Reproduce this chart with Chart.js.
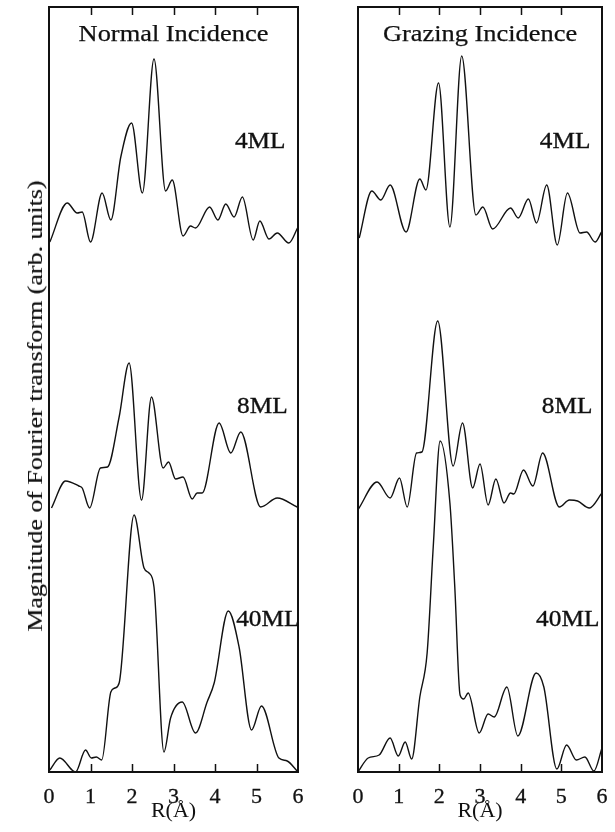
<!DOCTYPE html>
<html>
<head>
<meta charset="utf-8">
<script src="https://cdn.jsdelivr.net/npm/chart.js@4"></script>
<style>
  body { margin: 0; background: #fff; }
  #wrap { position: relative; width: 615px; height: 832px; overflow: hidden; }
  canvas { position: absolute; top: 0; }
  #ylabel {
    position: absolute; left: 35px; top: 406px;
    font: 22px "Liberation Serif", "Times New Roman", serif;
    color: #111; white-space: nowrap;
    -webkit-text-stroke: 0.2px #111;
    transform: translate(-50%, -50%) rotate(-90deg) scaleX(1.18);
  }
</style>
</head>
<body>
<div id="wrap">
  <canvas id="normalChart" width="310" height="832" style="left:0"></canvas>
  <canvas id="grazingChart" width="305" height="832" style="left:310px"></canvas>
  <div id="ylabel">Magnitude of Fourier transform (arb. units)</div>
</div>
<script>
// curve names and vertical offsets (arb. units) used to stack them
const seriesNames = ["4ML", "8ML", "40ML"];
const offsets = [52.7, 26.2, 0];
const xTicks = [0, 1, 2, 3, 4, 5, 6];

// Normal incidence, R in Å and FT magnitude (arb. units)
const normal4R = [0.02, 0.44, 0.68, 0.80, 1.00, 1.28, 1.49, 1.73, 1.99, 2.25, 2.53, 2.81, 2.97, 3.23, 3.41, 3.53, 3.87, 4.07, 4.26, 4.46, 4.66, 4.92, 5.08, 5.30, 5.50, 5.78, 6.00];
const normal4M = [0.3, 4.2, 3.2, 3.3, 0.3, 5.2, 2.5, 8.8, 12.2, 5.2, 18.6, 5.4, 6.5, 0.9, 1.9, 1.7, 3.8, 2.5, 4.1, 2.8, 4.8, 0.5, 2.4, 0.6, 1.2, 0.2, 1.8];
const normal8R = [0.06, 0.40, 0.72, 0.80, 0.98, 1.24, 1.41, 1.69, 1.93, 2.23, 2.47, 2.75, 2.88, 3.05, 3.23, 3.45, 3.57, 3.69, 4.10, 4.38, 4.62, 5.10, 5.50, 5.98];
const normal8M = [0.2, 2.9, 2.4, 2.2, 0.2, 4.2, 4.3, 9.3, 14.7, 1.0, 11.3, 4.2, 4.8, 3.1, 3.3, 1.1, 1.7, 1.7, 8.7, 5.7, 7.8, 0.3, 1.2, 0.3];
const normal40R = [0.02, 0.26, 0.64, 0.88, 1.02, 1.14, 1.27, 1.49, 1.59, 1.69, 2.05, 2.29, 2.41, 2.53, 2.77, 2.93, 3.21, 3.53, 3.81, 3.98, 4.32, 4.58, 4.88, 5.12, 5.54, 5.74, 5.98];
const normal40M = [0.2, 1.4, 0.0, 2.2, 1.4, 1.5, 1.2, 8.0, 8.4, 8.9, 25.7, 20.4, 19.9, 18.5, 2.0, 5.4, 7.0, 3.9, 7.0, 8.9, 16.1, 12.5, 4.2, 6.6, 1.4, 1.1, 0.1];

// Grazing incidence
const grazing4R = [0.03, 0.34, 0.56, 0.79, 1.18, 1.52, 1.67, 1.98, 2.26, 2.55, 2.90, 3.07, 3.31, 3.75, 3.94, 4.19, 4.39, 4.64, 4.90, 5.15, 5.46, 5.62, 5.83, 5.99];
const grazing4M = [0.7, 5.4, 4.5, 6.0, 1.3, 6.6, 5.5, 16.2, 1.8, 18.9, 3.0, 3.8, 1.6, 3.7, 2.7, 4.6, 2.2, 6.0, 0.0, 5.2, 1.2, 1.3, 0.3, 1.3];
const grazing8R = [0.01, 0.47, 0.79, 1.02, 1.21, 1.44, 1.57, 1.96, 2.34, 2.57, 2.82, 3.00, 3.20, 3.39, 3.59, 3.75, 3.83, 4.07, 4.30, 4.54, 4.95, 5.20, 5.40, 5.69, 6.00];
const grazing8M = [0.1, 2.8, 1.2, 3.2, 0.3, 5.7, 5.8, 18.9, 4.4, 8.7, 2.2, 4.6, 0.5, 3.1, 0.7, 1.7, 1.6, 4.0, 2.4, 5.7, 0.3, 1.0, 0.9, 0.2, 1.7];
const grazing40R = [0.00, 0.25, 0.52, 0.79, 0.99, 1.16, 1.32, 1.52, 1.70, 1.85, 2.02, 2.26, 2.38, 2.51, 2.60, 2.71, 2.98, 3.20, 3.35, 3.66, 3.93, 4.38, 4.57, 4.89, 5.13, 5.37, 5.58, 5.80, 6.00];
const grazing40M = [0.0, 1.4, 1.7, 3.4, 1.6, 3.0, 1.3, 7.5, 11.9, 22.5, 33.1, 26.9, 18.5, 7.7, 7.3, 7.9, 3.9, 5.8, 5.5, 8.5, 3.6, 9.9, 8.5, 0.3, 2.7, 1.2, 1.5, 0.1, 2.4];

const serif = '"Liberation Serif", "Times New Roman", serif';

function toPoints(rs, ms, off) {
  return rs.map((r, i) => ({ x: r, y: ms[i] + off }));
}

function drawText(ctx, text, px, py, stroke) {
  ctx.save();
  ctx.translate(px, py);
  ctx.scale(1.1, 1);
  ctx.fillText(text, 0, 0);
  ctx.lineWidth = stroke;  // a bit heavier, like the scanned figure
  ctx.strokeText(text, 0, 0);
  ctx.restore();
}

// frame, inward ticks, panel title and curve labels
const framePlugin = {
  id: "frame",
  afterDraw(chart, args, opts) {
    const { ctx, chartArea: a, scales: { x, y } } = chart;
    ctx.save();
    ctx.strokeStyle = "#111";
    ctx.lineWidth = 1.5;
    xTicks.slice(1, -1).forEach(v => {
      const px = Math.round(x.getPixelForValue(v)) + 0.5;
      ctx.beginPath();
      ctx.moveTo(px, a.bottom); ctx.lineTo(px, a.bottom - 8);
      ctx.moveTo(px, a.top); ctx.lineTo(px, a.top + 8);
      ctx.stroke();
    });
    ctx.lineWidth = 2;
    ctx.strokeRect(a.left, a.top, a.width, a.height);

    ctx.fillStyle = "#111";
    ctx.textBaseline = "middle";
    ctx.textAlign = "center";
    ctx.font = "24px " + serif;
    drawText(ctx, opts.title, (a.left + a.right) / 2, a.top + 28, 0.25);

    ctx.textAlign = "left";
    ctx.font = "23px " + serif;
    opts.labels.forEach((l, i) => {
      drawText(ctx, seriesNames[i], x.getPixelForValue(l[0]), y.getPixelForValue(l[1]), 0.35);
    });
    ctx.restore();
  }
};

function makeChart(id, title, rs, ms, labels, pad) {
  return new Chart(document.getElementById(id), {
    type: "line",
    data: {
      datasets: seriesNames.map((name, i) => ({
        label: name,
        data: toPoints(rs[i], ms[i], offsets[i]),
        borderColor: "#111",
        borderWidth: 1.4,
        pointRadius: 0,
        fill: false,
        cubicInterpolationMode: "monotone"
      }))
    },
    options: {
      responsive: false,
      animation: false,
      devicePixelRatio: 1,
      layout: { padding: pad },
      plugins: {
        legend: { display: false },
        tooltip: { enabled: false },
        frame: { title, labels }
      },
      scales: {
        x: {
          type: "linear",
          min: 0,
          max: 6,
          afterBuildTicks: s => { s.ticks = xTicks.map(v => ({ value: v })); },
          afterFit: s => { s.height = 60; s.paddingLeft = 0; s.paddingRight = 0; },
          grid: { display: false, drawTicks: false },
          border: { display: false },
          ticks: {
            color: "#111",
            font: { family: serif, size: 22 },
            padding: 12,
            textStrokeColor: "#111",
            textStrokeWidth: 0.3
          },
          title: {
            display: true,
            text: "R(Å)",
            color: "#111",
            font: { family: serif, size: 22 },
            padding: { top: 0, bottom: 8 }
          }
        },
        y: {
          display: false,
          min: 0,
          max: 76.5
        }
      }
    },
    plugins: [framePlugin]
  });
}

makeChart("normalChart", "Normal Incidence",
  [normal4R, normal8R, normal40R], [normal4M, normal8M, normal40M],
  [[4.48, 63], [4.53, 36.5], [4.51, 15.2]],
  { left: 49, right: 12, top: 7, bottom: 0 });

makeChart("grazingChart", "Grazing Incidence",
  [grazing4R, grazing8R, grazing40R], [grazing4M, grazing8M, grazing40M],
  [[4.47, 63], [4.52, 36.5], [4.38, 15.2]],
  { left: 48, right: 13, top: 7, bottom: 0 });
</script>
</body>
</html>
